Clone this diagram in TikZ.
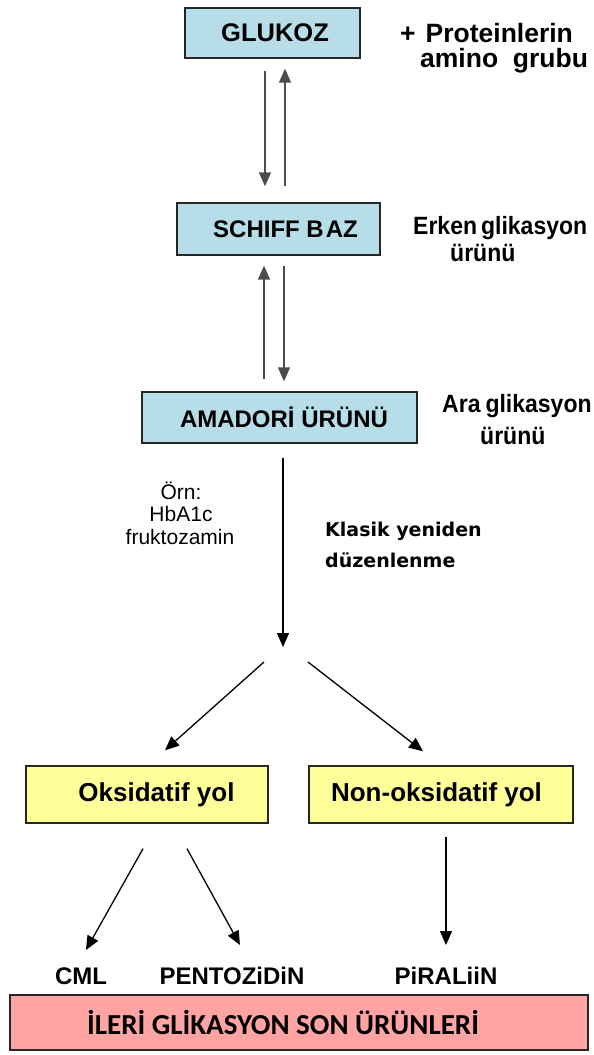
\documentclass[tikz,border=0pt]{standalone}
\usepackage{fontspec}
\setmainfont{Liberation Sans}
\newfontfamily\narrowfont[FakeStretch=0.92]{Liberation Sans}
\newfontfamily\tahfont{DejaVu Sans}
\newfontfamily\calfont{Carlito}
\usetikzlibrary{arrows.meta,calc}
\definecolor{boxblue}{HTML}{B7DEE8}
\definecolor{boxyellow}{HTML}{FFFF99}
\definecolor{boxpink}{HTML}{FFA3A3}
\begin{document}
\begin{tikzpicture}[x=1pt,y=-1pt,
  box/.style={draw=black!85,line width=1.4pt,inner sep=0pt,font=\fontsize{25.5}{29}\selectfont\bfseries},
  lbl/.style={inner sep=0pt,anchor=west,font=\fontsize{26.5}{30}\selectfont\bfseries},
  nlbl/.style={inner sep=0pt,anchor=west,font=\fontsize{25}{29}\narrowfont\bfseries},
  small/.style={inner sep=0pt,font=\fontsize{21}{24}\selectfont},
  tah/.style={inner sep=0pt,anchor=west,font=\fontsize{19}{22}\tahfont\bfseries},
  prod/.style={inner sep=0pt,font=\fontsize{24}{28}\selectfont\bfseries},
  arr/.style={line width=1.3pt,-{Triangle[length=14pt,width=12pt]}},
  arrg/.style={line width=1.6pt,draw=black!70,-{Triangle[length=14pt,width=12pt]}}]
\useasboundingbox (0,0) rectangle (594,1055);
% boxes
\node[box,fill=boxblue,minimum width=175,minimum height=50] (glukoz) at (272.5,33) {\hspace{5pt}GLUKOZ};
\node[box,fill=boxblue,minimum width=203,minimum height=52,font=\fontsize{24}{28}\selectfont\bfseries] (schiff) at (278.5,229) {\hspace{14pt}SCHIFF B\kern2pt AZ};
\node[box,fill=boxblue,minimum width=275,minimum height=51,font=\fontsize{24}{28}\selectfont\bfseries] (amadori) at (279.5,417.5) {\hspace{9pt}AMADORİ ÜRÜNÜ};
\node[box,fill=boxyellow,minimum width=242,minimum height=57,font=\fontsize{26}{30}\selectfont\bfseries] (oks) at (147,794.5) {\hspace{19pt}Oksidatif yol};
\node[box,fill=boxyellow,minimum width=264,minimum height=57,font=\fontsize{26}{30}\selectfont\bfseries] (nonoks) at (441,794.5) {Non-oksidatif yol\hspace{9pt}\null};
\node[box,fill=boxpink,minimum width=578,minimum height=55,font=\fontsize{29}{33}\calfont\bfseries] (age) at (299,1022.5) {İLERİ GLİKASYON SON ÜRÜNLERİ\hspace{32pt}\null};
% side labels
\node[lbl] (prot) at (400,33) {+\hspace{10pt}Proteinlerin};
\node[lbl] (amino) at (420,61) {amino\ \ grubu};
\node[nlbl] (erken) at (413,228) {Erken\hspace{4pt}glikasyon};
\node[nlbl] (urunu1) at (450,253) {ürünü};
\node[nlbl] (ara) at (442,406) {Ara\hspace{5pt}glikasyon};
\node[nlbl] (urunu2) at (480,436) {ürünü};
\node[small] (orn) at (181,491) {Örn:};
\node[small] (hba) at (181,514) {HbA1c};
\node[small] (frukto) at (180,537) {fruktozamin};
\node[tah] (klasik) at (325,531) {Klasik yeniden};
\node[tah] (duzen) at (325,560) {düzenlenme};
% products
\node[prod] (cml) at (81,976) {CML};
\node[prod] (pento) at (232,976) {PENTOZiDiN};
\node[prod] (piral) at (446,976) {PiRALiiN};
% coordinates
\coordinate (split) at (283,647);
\coordinate (bl) at (264,662);
\coordinate (br) at (308,662);
% arrows
\draw[arrg] ([shift={(-7.5,12)}]glukoz.south) -- ([shift={(-13.5,-16)}]schiff.north);
\draw[arrg] ([shift={(6.5,-16)}]schiff.north) -- ([shift={(12.5,10)}]glukoz.south);
\draw[arrg] ([shift={(-15.5,-12)}]amadori.north) -- ([shift={(-14.5,10)}]schiff.south);
\draw[arrg] ([shift={(5.5,10)}]schiff.south) -- ([shift={(4.5,-10)}]amadori.north);
\draw[arr] ([shift={(3.5,14)}]amadori.south) -- (split);
\draw[arr] (bl) -- ([shift={(18,-15)}]oks.north);
\draw[arr] (br) -- ([shift={(-18,-14)}]nonoks.north);
\draw[arr] ([shift={(-4,25)}]oks.south) -- ([shift={(5,-26)}]cml.center);
\draw[arr] ([shift={(40,25)}]oks.south) -- ([shift={(8,-31)}]pento.center);
\draw[arr] ([shift={(5,13)}]nonoks.south) -- ([shift={(0,-31)}]piral.center);
\end{tikzpicture}
\end{document}
